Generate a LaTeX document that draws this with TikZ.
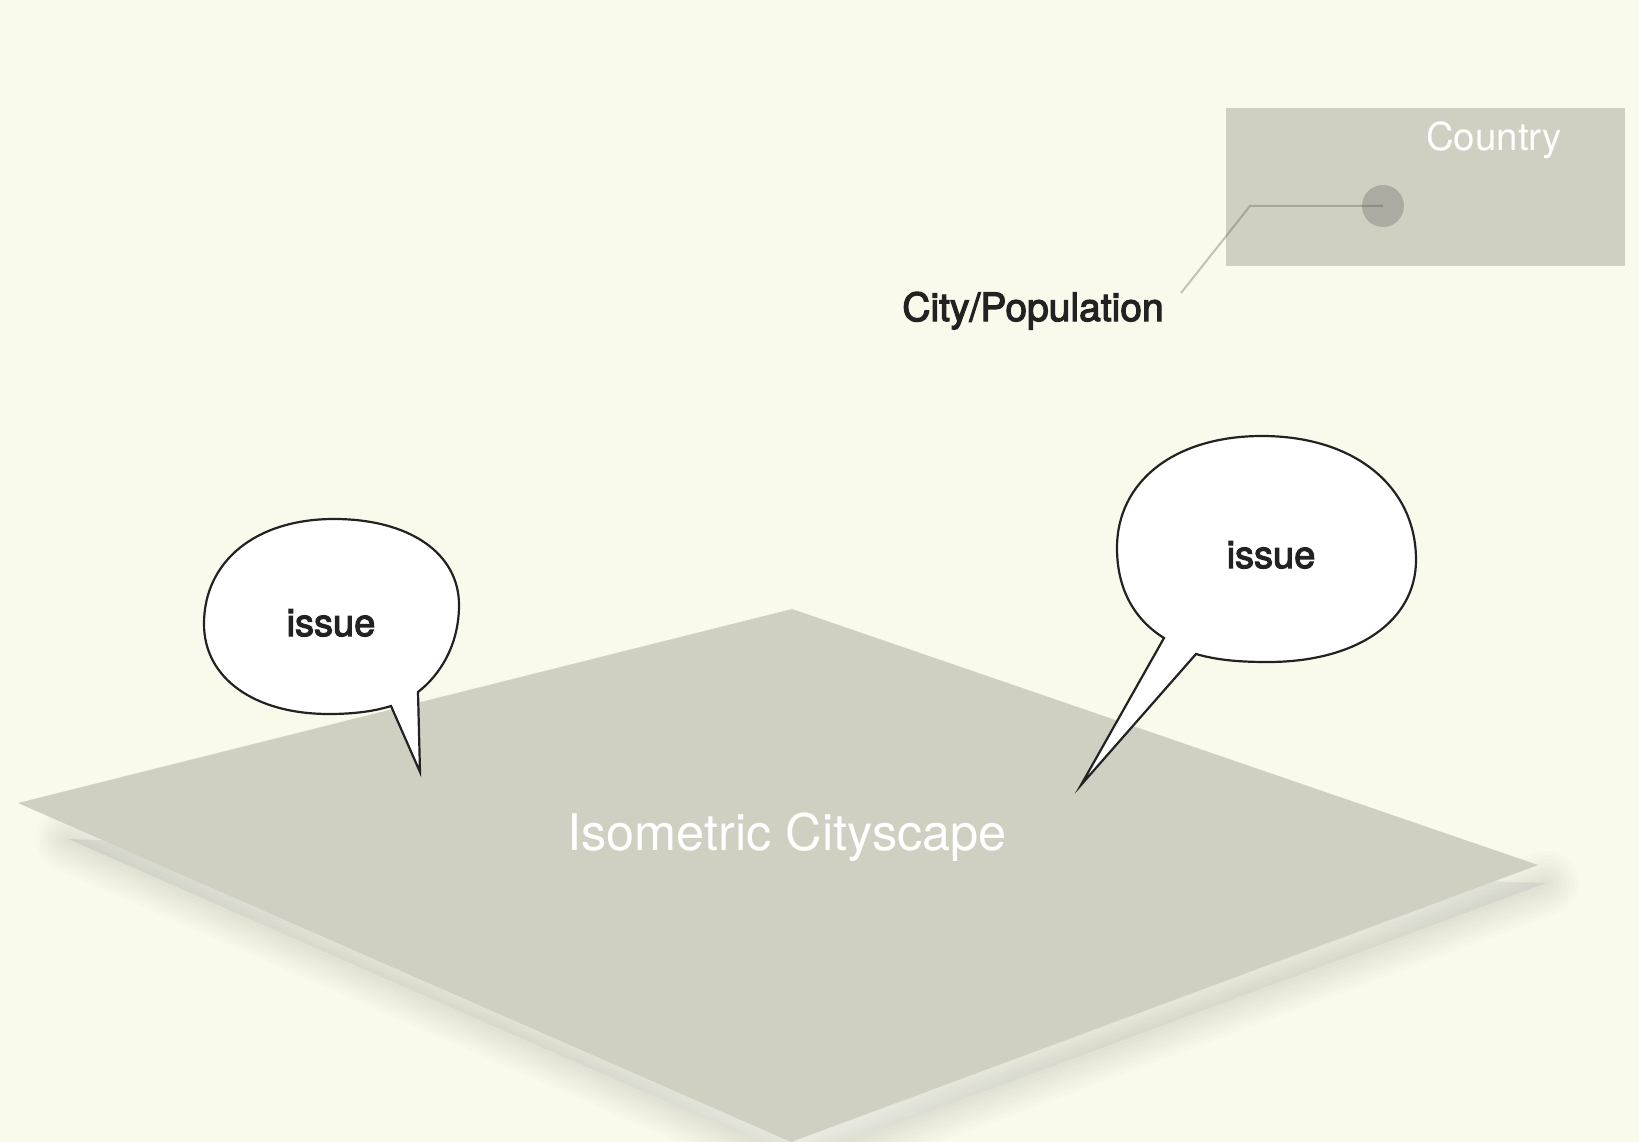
\documentclass[tikz,border=0pt]{standalone}
\usepackage{fontspec}
\setmainfont{TeX Gyre Heros}
\newfontfamily\medfont{TeX Gyre Heros}[FakeBold=3]
\definecolor{bg}{RGB}{249,250,236}
\definecolor{land}{RGB}{207,208,194}
\definecolor{shade}{RGB}{165,165,130}
\definecolor{dotc}{RGB}{171,171,161}
\definecolor{ink}{RGB}{34,34,34}
\definecolor{leader}{RGB}{90,90,80}
\begin{document}
\begin{tikzpicture}[x=1pt,y=-1pt,
  bubble/.style={fill=white,draw=ink,line width=2.2pt,line join=miter,miter limit=12},
  darklabel/.style={font=\medfont\fontsize{38}{44}\selectfont,text=ink,inner sep=0pt,anchor=base},
  whitelabel/.style={text=white,inner sep=0pt,anchor=base},
  leaderline/.style={draw=leader,draw opacity=0.35,line width=2pt}]
\fill[bg] (0,0) rectangle (1639,1142);
\useasboundingbox (0,0) rectangle (1639,1142);
% soft shadow of the ground plane (below its lower edges)
\foreach \w in {8,16,...,64}{
  \draw[shade,opacity=0.011,line width=\w pt,line join=round,line cap=round,shift={(8,18)}]
    (60,821) -- (791,1142) -- (1538,865);
}
% ground plane
\fill[land] (18,803) -- (792,609) -- (1538,865) -- (791,1142) -- cycle;
\node[whitelabel,font=\fontsize{50.5}{58}\selectfont] (iso) at (787,850) {Isometric Cityscape};
% country inset
\fill[land] (1226,108) rectangle (1625,266);
\node[whitelabel,font=\fontsize{38.5}{44}\selectfont] (country) at (1494,151) {Country};
\node[circle,fill=dotc,minimum size=42pt,inner sep=0pt] (city) at (1383,206) {};
\coordinate (bend) at (1250,206);
\coordinate (cpend) at (1181,293);
\draw[leaderline] (city.center) -- (bend) -- (cpend);
\node[darklabel,font=\medfont\fontsize{39}{45}\selectfont] (citylabel) at (1033,321) {City/Population};
% left speech bubble
\draw[bubble] (418,692) .. controls (440,675) and (459,645) .. (459,605)
  .. controls (459,553) and (409,519) .. (334,519)
  .. controls (256,519) and (204,561) .. (204,624)
  .. controls (204,678) and (254,714) .. (329,714)
  .. controls (355,714) and (375,711) .. (391,706)
  -- (420,772) -- cycle;
\node[darklabel] (issueL) at (331,636) {issue};
% right speech bubble
\draw[bubble] (1196,654) .. controls (1220,661) and (1245,662) .. (1268,662)
  .. controls (1357,662) and (1416,621) .. (1416,560)
  .. controls (1416,486) and (1354,436) .. (1262,436)
  .. controls (1175,436) and (1117,481) .. (1117,548)
  .. controls (1117,590) and (1135,620) .. (1164,638)
  -- (1081,785) -- cycle;
\node[darklabel] (issueR) at (1271,568) {issue};
\end{tikzpicture}
\end{document}
